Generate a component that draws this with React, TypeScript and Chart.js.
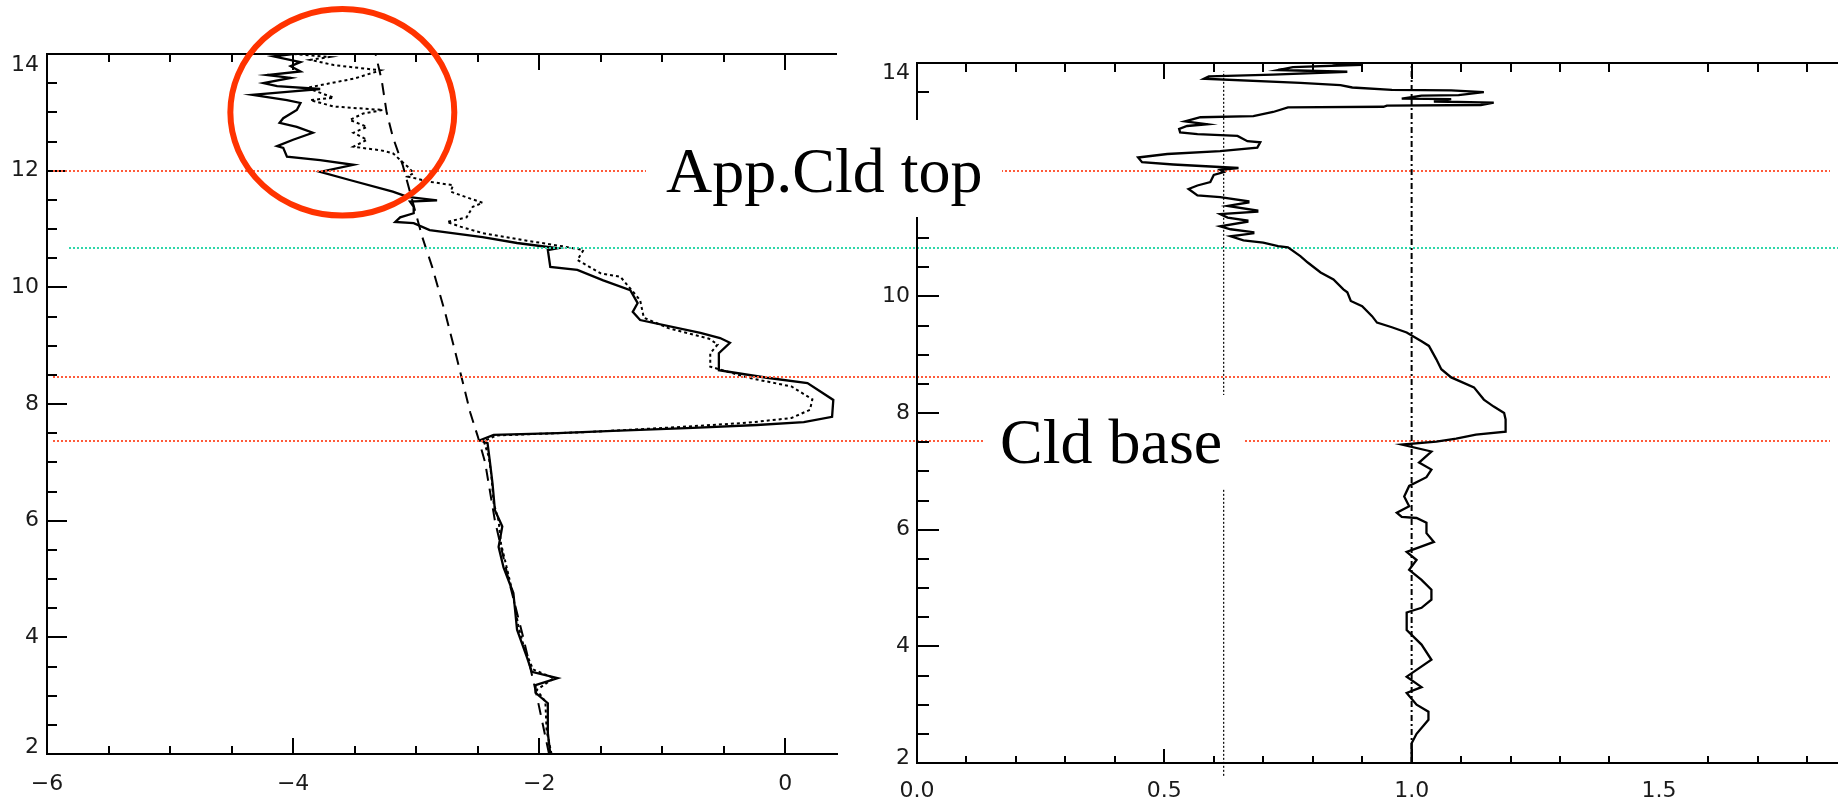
import { useEffect, useRef } from 'react';
import { Chart, registerables } from 'chart.js';

Chart.register(...registerables);

// ---------- left panel: three profiles against height (km) ----------
const solidHeight = [
  2.0, 2.36, 2.87, 3.05, 3.18, 3.3, 3.41, 3.66, 4.13, 4.76, 5.2, 5.55, 5.9, 6.18, 6.65, 7.0, 7.33, 7.38, 7.47, 7.5,
  7.54, 7.59, 7.64, 7.69, 7.78, 8.07, 8.36, 8.45, 8.58, 8.87, 9.05, 9.13, 9.22, 9.44, 9.58, 9.73, 9.95, 10.12, 10.3, 10.35,
  10.64, 10.67, 10.76, 10.86, 10.98, 11.1, 11.12, 11.2, 11.27, 11.38, 11.47, 11.49, 11.55, 11.64, 11.84, 11.98, 12.1, 12.18, 12.24, 12.39,
  12.42, 12.53, 12.65, 12.75, 12.82, 12.9, 13.04, 13.16, 13.21, 13.3, 13.35, 13.4, 13.45, 13.5, 13.59, 13.64, 13.7, 13.79, 13.86, 13.96,
  14.0,
];
const solidValue = [
  -1.91, -1.93, -1.93, -2.03, -2.03, -1.85, -2.06, -2.1, -2.18, -2.21, -2.29, -2.33, -2.3, -2.36, -2.38, -2.4, -2.42, -2.48, -2.37, -1.85,
  -1.4, -0.75, -0.23, 0.15, 0.38, 0.39, 0.18, -0.15, -0.54, -0.54, -0.45, -0.53, -0.69, -1.18, -1.24, -1.2, -1.26, -1.48, -1.69, -1.91,
  -1.93, -1.85, -2.18, -2.46, -2.89, -3.02, -3.17, -3.13, -3.02, -3.02, -3.05, -2.83, -3.07, -3.19, -3.54, -3.78, -3.51, -3.78, -4.05, -4.08,
  -4.13, -4.0, -3.84, -3.97, -4.11, -4.08, -3.97, -3.94, -4.05, -4.33, -4.05, -3.78, -4.13, -4.24, -4.02, -4.21, -3.94, -4.02, -3.94, -4.16,
  -4.0,
];

const dottedHeight = [
  2.0, 2.4, 2.9, 3.1, 3.3, 3.45, 3.8, 4.2, 4.8, 5.25, 5.6, 6.0, 6.3, 6.8, 7.1, 7.36, 7.46, 7.52, 7.6, 7.68,
  7.76, 7.9, 8.08, 8.3, 8.45, 8.64, 8.87, 9.02, 9.12, 9.3, 9.48, 9.78, 10.18, 10.24, 10.47, 10.64, 10.7, 10.8, 10.93, 11.04,
  11.12, 11.2, 11.38, 11.45, 11.55, 11.64, 11.75, 11.81, 11.9, 11.96, 12.07, 12.3, 12.35, 12.41, 12.53, 12.65, 12.75, 12.87, 12.98, 13.04,
  13.1, 13.21, 13.25, 13.42, 13.58, 13.72, 13.81, 13.9, 13.95, 14.0,
];
const dottedValue = [
  -1.9, -1.94, -1.95, -2.02, -1.88, -2.05, -2.12, -2.17, -2.22, -2.27, -2.31, -2.33, -2.37, -2.39, -2.41, -2.45, -2.35, -1.6, -0.9, -0.3,
  0.05, 0.2, 0.22, 0.05, -0.3, -0.61, -0.61, -0.55, -0.62, -0.95, -1.15, -1.18, -1.34, -1.5, -1.69, -1.64, -1.8, -2.1, -2.46, -2.64,
  -2.75, -2.59, -2.54, -2.46, -2.6, -2.72, -2.7, -2.89, -3.07, -3.02, -3.07, -3.19, -3.29, -3.51, -3.4, -3.51, -3.4, -3.54, -3.43, -3.27,
  -3.67, -3.86, -3.67, -3.89, -3.5, -3.29, -3.67, -3.86, -3.7, -4.0,
];

const dashedHeight = [2.0, 3.0, 4.0, 5.0, 6.0, 7.0, 7.45, 7.85, 8.79, 9.53, 10.35, 10.86, 12.1, 12.58, 13.0, 13.55, 14.0];
const dashedValue = [-1.92, -2.02, -2.13, -2.25, -2.36, -2.44, -2.5, -2.56, -2.67, -2.76, -2.87, -2.95, -3.11, -3.19, -3.24, -3.28, -3.33];

// ---------- right panel: ratio profile against height (km) ----------
const ratioHeight = [
  2.0, 2.34, 2.5, 2.74, 2.88, 3.0, 3.2, 3.3, 3.48, 3.77,
  4.03, 4.28, 4.58, 4.66, 4.8, 4.97, 5.14, 5.31, 5.48, 5.62,
  5.79, 5.94, 6.12, 6.2, 6.22, 6.29, 6.4, 6.57, 6.75, 6.9,
  7.03, 7.15, 7.34, 7.46, 7.51, 7.56, 7.63, 7.68, 7.89, 8.0,
  8.11, 8.23, 8.44, 8.61, 8.75, 8.92, 9.15, 9.23, 9.38, 9.47,
  9.55, 9.66, 9.83, 9.92, 10.07, 10.12, 10.29, 10.41, 10.58, 10.69,
  10.84, 10.86,
  10.92, 10.96, 11.03, 11.08, 11.1, 11.15, 11.2, 11.28, 11.3, 11.35,
  11.41, 11.45, 11.47, 11.55, 11.61, 11.63, 11.7, 11.73, 11.84, 11.9,
  11.96, 12.08, 12.13, 12.17, 12.2, 12.26, 12.3, 12.38, 12.44, 12.49,
  12.55, 12.64, 12.66, 12.75,
  12.78, 12.81, 12.87, 12.92, 12.95, 13.0, 13.07, 13.09, 13.16, 13.24,
  13.25, 13.27, 13.28, 13.32, 13.34, 13.38, 13.39, 13.44, 13.45, 13.5,
  13.53, 13.54, 13.58, 13.62, 13.66, 13.73, 13.77, 13.8, 13.85, 13.88,
  13.93, 13.97, 14.0,
];
const ratioValue = [
  1.0, 1.0, 1.01, 1.034, 1.034, 1.01, 0.99, 1.02, 0.99, 1.04,
  1.02, 0.99, 0.99, 1.02, 1.04, 1.04, 1.02, 0.995, 1.01, 0.99,
  1.045, 1.03, 1.03, 1.01, 0.98, 0.97, 0.995, 0.985, 0.995, 1.03,
  1.04, 1.015, 1.04, 0.98, 1.05, 1.09, 1.13, 1.19, 1.19, 1.187,
  1.166, 1.146, 1.126, 1.08, 1.06, 1.05, 1.035, 1.02, 0.99, 0.96,
  0.93, 0.92, 0.9, 0.877, 0.87, 0.862, 0.842, 0.816, 0.79, 0.775,
  0.75, 0.73,
  0.7, 0.66, 0.634, 0.68, 0.68, 0.634, 0.613, 0.668, 0.668, 0.628,
  0.613, 0.688, 0.688, 0.628, 0.67, 0.67, 0.613, 0.567, 0.549, 0.567,
  0.593, 0.6, 0.62, 0.613, 0.65, 0.518, 0.455, 0.447, 0.506, 0.613,
  0.688, 0.694, 0.668, 0.648,
  0.567, 0.532, 0.53, 0.546, 0.587, 0.542, 0.573, 0.68, 0.72, 0.75,
  0.943, 0.95, 1.14, 1.166, 1.045, 1.08, 0.98, 1.02, 1.095, 1.146,
  1.08, 0.96, 0.88, 0.856, 0.775, 0.58, 0.59, 0.72, 0.87, 0.73,
  0.76, 0.9, 0.84,
];

// vertical reference ratios on the right panel, with the height span of each line
const refRatios = [0.62, 1.0];
const refRatioSpans = [
  [1.78, 13.86],
  [2.0, 14.0],
];

// horizontal level markers (km, on the left panel's height scale)
const levelHeights = [12.0, 10.67, 8.47, 7.37];
const levelKinds = ['cloud', 'layer', 'cloud', 'cloud'];

// highlighted region on the left panel: centre (value, km) and radii
const highlightCentre = [-3.6, 13.0];
const highlightRadii = [0.91, 1.77];

// axis ticks and labels
const leftXTicks = [-6, -4, -2, 0];
const leftXLabels = ['\u22126', '\u22124', '\u22122', '0'];
const heightTicks = [2, 4, 6, 8, 10, 12, 14];
const heightLabels = ['2', '4', '6', '8', '10', '12', '14'];
const rightXTicks = [0, 0.5, 1.0, 1.5];
const rightXLabels = ['0.0', '0.5', '1.0', '1.5'];

const toPoints = (xs: number[], ys: number[]) => xs.map((x, i) => ({ x, y: ys[i] }));

const LEVEL_COLOURS: Record<string, string> = { cloud: '#ff5a3a', layer: '#2ed8aa' };

// Inward ticks on left, top and bottom edges plus the top frame line
const frameTicks = {
  id: 'frameTicks',
  beforeDraw(chart: any, _args: any, o: any) {
    // keep the end labels of the height axis inside the frame
    const items = chart.scales.y.getLabelItems();
    if (items.length && !items.shifted) {
      items[0].options.translation[1] -= o.endShift[0];
      items[items.length - 1].options.translation[1] += o.endShift[1];
      items.shifted = true;
    }
  },
  afterDraw(chart: any, _args: any, o: any) {
    const { ctx, chartArea: a } = chart;
    const sx = chart.scales.x;
    const sy = chart.scales.y;
    const skip: number[] = o.skipX || [];
    const each = (min: number, max: number, step: number, major: number, fn: (v: number, m: boolean) => void) => {
      const i0 = Math.ceil(min / step - 1e-6);
      const i1 = Math.floor(max / step + 1e-6);
      for (let i = i0; i <= i1; i++) {
        const v = i * step;
        const r = v / major;
        fn(v, Math.abs(r - Math.round(r)) < 1e-6);
      }
    };
    ctx.save();
    ctx.strokeStyle = '#000';
    ctx.lineWidth = 2;
    ctx.beginPath();
    ctx.moveTo(a.left - 1, a.top);
    ctx.lineTo(a.right, a.top);
    each(sx.min, sx.max, o.xStep, o.xMajor, (v, m) => {
      if (skip.some((s) => Math.abs(s - v) < 1e-6)) return;
      const px = Math.round(sx.getPixelForValue(v));
      ctx.moveTo(px, a.top);
      ctx.lineTo(px, a.top + (m ? o.xTop[0] : o.xTop[1]));
      ctx.moveTo(px, a.bottom);
      ctx.lineTo(px, a.bottom - (m ? o.xBottom[0] : o.xBottom[1]));
    });
    each(sy.min, sy.max, o.yStep, o.yMajor, (v, m) => {
      const py = Math.round(sy.getPixelForValue(v));
      ctx.moveTo(a.left, py);
      ctx.lineTo(a.left + (m ? o.yLen[0] : o.yLen[1]), py);
    });
    ctx.stroke();
    ctx.restore();
  },
};

// Level markers across the whole figure and the highlight ellipse
const guides = {
  id: 'guides',
  afterDraw(chart: any) {
    const { ctx, chartArea: a, width } = chart;
    const sx = chart.scales.x;
    const sy = chart.scales.y;
    ctx.save();
    ctx.lineWidth = 2;
    ctx.setLineDash([2, 2]);
    levelHeights.forEach((h, i) => {
      const kind = levelKinds[i];
      const py = Math.round(sy.getPixelForValue(h));
      ctx.strokeStyle = LEVEL_COLOURS[kind];
      ctx.beginPath();
      ctx.moveTo(a.left + (kind === 'layer' ? 22 : 6), py);
      ctx.lineTo(width - (kind === 'layer' ? 0 : 8), py);
      ctx.stroke();
    });
    ctx.setLineDash([]);
    const cx = sx.getPixelForValue(highlightCentre[0]);
    const cy = sy.getPixelForValue(highlightCentre[1]);
    const rx = Math.abs(sx.getPixelForValue(highlightCentre[0] + highlightRadii[0]) - cx);
    const ry = Math.abs(sy.getPixelForValue(highlightCentre[1] + highlightRadii[1]) - cy);
    ctx.strokeStyle = '#ff3300';
    ctx.lineWidth = 6;
    ctx.beginPath();
    ctx.ellipse(cx, cy, rx, ry, 0, 0, Math.PI * 2);
    ctx.stroke();
    ctx.restore();
  },
};

const tickFont = { family: '"DejaVu Sans", sans-serif', size: 22 };

function axisX(min: number, max: number, ticks: number[], labels: string[], pad: number, height: number) {
  return {
    type: 'linear',
    position: 'bottom',
    min,
    max,
    grid: { display: false, drawTicks: false },
    border: { display: true, color: '#000', width: 2 },
    afterBuildTicks: (s: any) => {
      s.ticks = ticks.map((value) => ({ value }));
    },
    afterFit: (s: any) => {
      s.height = height;
    },
    ticks: {
      color: '#1a1a1a',
      font: tickFont,
      padding: pad,
      maxRotation: 0,
      autoSkip: false,
      callback: (_v: any, i: number) => labels[i],
    },
  };
}

function axisY(width: number, pad: number) {
  return {
    type: 'linear',
    position: 'left',
    min: 2,
    max: 14,
    grid: { display: false, drawTicks: false },
    border: { display: true, color: '#000', width: 2 },
    afterBuildTicks: (s: any) => {
      s.ticks = heightTicks.map((value) => ({ value }));
    },
    afterFit: (s: any) => {
      s.width = width;
    },
    ticks: {
      color: '#1a1a1a',
      font: tickFont,
      padding: pad,
      autoSkip: false,
      callback: (_v: any, i: number) => heightLabels[i],
    },
  };
}

const lineStyle = { showLine: true, pointRadius: 0, borderColor: '#000', borderWidth: 2.3, fill: false, tension: 0 };

export default function App() {
  const leftRef = useRef<HTMLCanvasElement | null>(null);
  const rightRef = useRef<HTMLCanvasElement | null>(null);

  useEffect(() => {
    const left = new Chart(leftRef.current as HTMLCanvasElement, {
      type: 'scatter',
      data: {
        datasets: [
          { ...lineStyle, data: toPoints(dashedValue, dashedHeight), borderWidth: 2, borderDash: [12, 8] },
          { ...lineStyle, data: toPoints(dottedValue, dottedHeight), borderWidth: 2, borderDash: [3, 3] },
          { ...lineStyle, data: toPoints(solidValue, solidHeight) },
        ],
      } as any,
      options: {
        responsive: false,
        animation: false,
        events: [],
        layout: { padding: { left: 0, top: 54, right: 1001, bottom: 0 } },
        plugins: {
          legend: { display: false },
          tooltip: { enabled: false },
          frameTicks: {
            xStep: 0.5, xMajor: 2, yStep: 0.5, yMajor: 2,
            xTop: [16, 8], xBottom: [16, 8], yLen: [20, 10], endShift: [7, 11],
          },
        } as any,
        scales: {
          x: axisX(-6, 0.42, leftXTicks, leftXLabels, 17, 53),
          y: axisY(47, 8),
        } as any,
      },
      plugins: [frameTicks, guides],
    });

    const right = new Chart(rightRef.current as HTMLCanvasElement, {
      type: 'scatter',
      data: {
        datasets: [
          {
            ...lineStyle,
            data: toPoints([refRatios[0], refRatios[0]], refRatioSpans[0]),
            borderWidth: 1.2,
            borderDash: [2, 2],
            clip: false,
          },
          {
            ...lineStyle,
            data: toPoints([refRatios[1], refRatios[1]], refRatioSpans[1]),
            borderWidth: 2,
            borderDash: [6, 3, 2, 3],
          },
          { ...lineStyle, data: toPoints(ratioValue, ratioHeight) },
        ],
      } as any,
      options: {
        responsive: false,
        animation: false,
        events: [],
        layout: { padding: { left: 0, top: 63, right: 0, bottom: 0 } },
        plugins: {
          legend: { display: false },
          tooltip: { enabled: false },
          frameTicks: {
            xStep: 0.1, xMajor: 0.5, yStep: 0.5, yMajor: 2,
            xTop: [16, 9], xBottom: [14, 7], yLen: [22, 12], endShift: [5, 10], skipX: [1.5],
          },
        } as any,
        scales: {
          x: axisX(0, 1.862, rightXTicks, rightXLabels, 15, 44),
          y: axisY(57, 7),
        } as any,
      },
      plugins: [frameTicks],
    });

    return () => {
      left.destroy();
      right.destroy();
    };
  }, []);

  const labelBox = {
    position: 'absolute' as const,
    background: '#fff',
    color: '#000',
    fontFamily: '"Liberation Serif", "Times New Roman", serif',
    fontSize: 64,
    lineHeight: '64px',
    whiteSpace: 'nowrap' as const,
    boxSizing: 'border-box' as const,
  };

  return (
    <div style={{ position: 'relative', width: 1838, height: 807, overflow: 'hidden', background: '#fff' }}>
      <style>{'body{margin:0}'}</style>
      <canvas ref={leftRef} width={1838} height={807} style={{ position: 'absolute', left: 0, top: 0, width: 1838, height: 807 }} />
      <canvas ref={rightRef} width={978} height={807} style={{ position: 'absolute', left: 860, top: 0, width: 978, height: 807 }} />
      <div style={{ ...labelBox, left: 646, top: 120, width: 356, height: 97, paddingTop: 19, paddingLeft: 20 }}>App.Cld top</div>
      <div style={{ ...labelBox, left: 983, top: 395, width: 262, height: 93, paddingTop: 15, paddingLeft: 17 }}>Cld base</div>
    </div>
  );
}
